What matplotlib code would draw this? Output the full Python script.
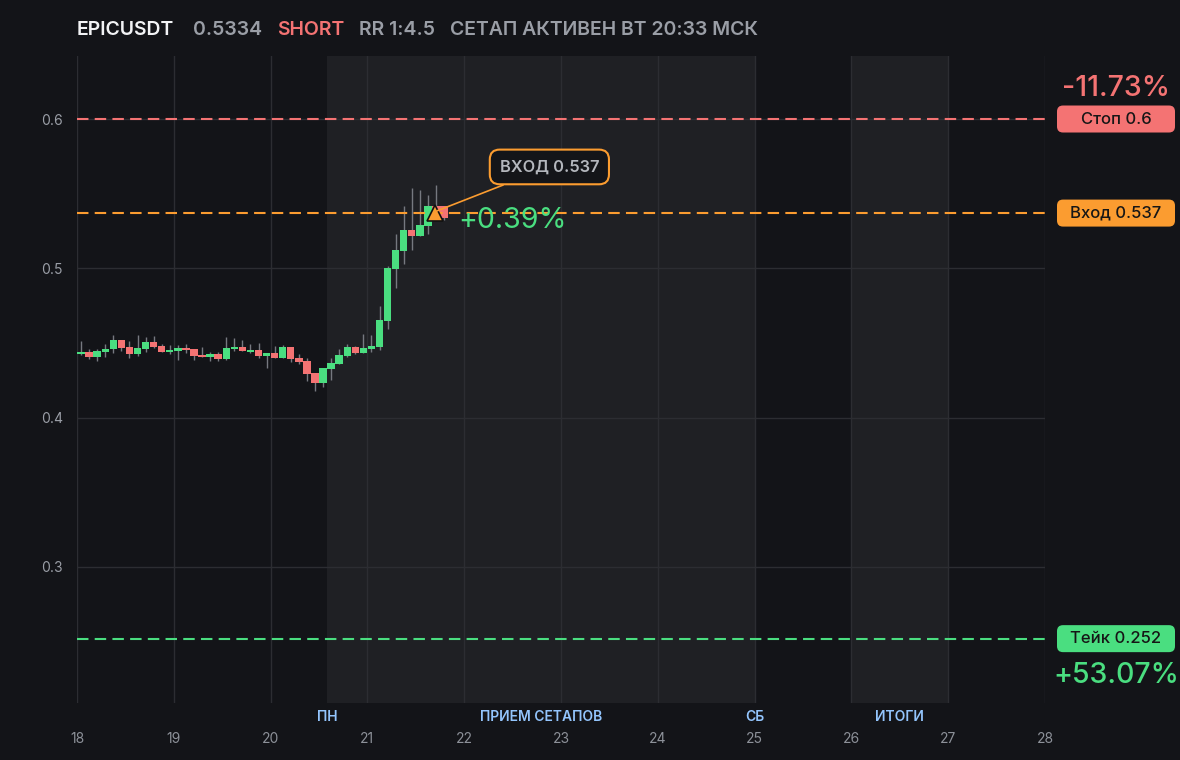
import matplotlib.pyplot as plt
from matplotlib.patches import FancyBboxPatch
from matplotlib.transforms import blended_transform_factory

plt.rcParams['font.family'] = ['Inter', 'DejaVu Sans']

# --- data ---
ticker = 'EPICUSDT'
last_price = '0.5334'
side = 'SHORT'
rr_text = 'RR 1:4.5'
status_text = 'СЕТАП АКТИВЕН ВТ 20:33 МСК'

start_day = 18
candle_days = 2 / 24   # 2h candles

opens = [0.4426, 0.4440, 0.4408, 0.4442, 0.4458, 0.4520, 0.4471, 0.4426, 0.4462, 0.4507,
         0.4480, 0.4440, 0.4448, 0.4466, 0.4460, 0.4420, 0.4408, 0.4426, 0.4395, 0.4460,
         0.4473, 0.4440, 0.4453, 0.4413, 0.4433, 0.4399, 0.4473, 0.4399, 0.4379, 0.4299,
         0.4234, 0.4328, 0.4361, 0.4415, 0.4473, 0.4433, 0.4460, 0.4475, 0.4647, 0.4995,
         0.5116, 0.5257, 0.5216, 0.5283, 0.5417, 0.5417]
highs = [0.4513, 0.4460, 0.4460, 0.4493, 0.4554, 0.4522, 0.4513, 0.4554, 0.4540, 0.4547,
         0.4493, 0.4487, 0.4487, 0.4493, 0.4460, 0.4473, 0.4440, 0.4440, 0.4540, 0.4533,
         0.4520, 0.4493, 0.4500, 0.4433, 0.4480, 0.4487, 0.4473, 0.4426, 0.4399, 0.4299,
         0.4332, 0.4399, 0.4460, 0.4493, 0.4480, 0.4560, 0.4554, 0.4748, 0.5017, 0.5230,
         0.5417, 0.5538, 0.5524, 0.5491, 0.5558, 0.5417]
lows = [0.4419, 0.4395, 0.4381, 0.4408, 0.4435, 0.4448, 0.4399, 0.4413, 0.4442, 0.4466,
        0.4440, 0.4426, 0.4386, 0.4435, 0.4386, 0.4408, 0.4379, 0.4381, 0.4386, 0.4448,
        0.4448, 0.4431, 0.4399, 0.4332, 0.4399, 0.4399, 0.4373, 0.4359, 0.4247, 0.4180,
        0.4207, 0.4252, 0.4361, 0.4408, 0.4426, 0.4433, 0.4442, 0.4453, 0.4594, 0.4870,
        0.5029, 0.5123, 0.5216, 0.5230, 0.5363, 0.5323]
closes = [0.4440, 0.4408, 0.4446, 0.4460, 0.4520, 0.4468, 0.4426, 0.4466, 0.4507, 0.4475,
          0.4440, 0.4453, 0.4466, 0.4453, 0.4413, 0.4408, 0.4426, 0.4395, 0.4466, 0.4473,
          0.4448, 0.4453, 0.4413, 0.4433, 0.4399, 0.4473, 0.4393, 0.4373, 0.4294, 0.4234,
          0.4332, 0.4366, 0.4419, 0.4473, 0.4433, 0.4466, 0.4482, 0.4654, 0.5002, 0.5123,
          0.5257, 0.5216, 0.5290, 0.5417, 0.5377, 0.5334]

stop_price = 0.6
entry_price = 0.537
take_price = 0.252
stop_pct = '-11.73%'
take_pct = '+53.07%'
live_pct = '+0.39%'
entry_day = 21.70

shade_spans = [(20.583, 25.0), (26.0, 27.0)]
phase_labels = ['ПН', 'ПРИЕМ СЕТАПОВ', 'СБ', 'ИТОГИ']
phase_days = [20.583, 22.79, 25.0, 26.5]
day_ticks = list(range(18, 29))
price_ticks = [0.3, 0.4, 0.5, 0.6]

# --- colours ---
BG = '#131418'
SHADE = '#1f2024'
GRID = '#2c2d32'
GREEN = '#4ade80'
RED = '#f47373'
ORANGE = '#fb9c30'
MUTED = '#9a9ea6'
BLUE = '#93c5fd'

fig = plt.figure(figsize=(11.8, 7.6), dpi=100, facecolor=BG)
ax = fig.add_axes([77 / 1180, 57 / 760, 968 / 1180, 647 / 760])
ax.set_facecolor(BG)
ax.set_xlim(18, 28)
ax.set_ylim(0.2089, 0.6422)
for s in ax.spines.values():
    s.set_visible(False)

for a, b in shade_spans:
    ax.axvspan(a, b, color=SHADE, zorder=0, lw=0)

ax.set_xticks(day_ticks)
ax.set_yticks(price_ticks)
ax.set_yticklabels([f'{p:g}' for p in price_ticks])
ax.grid(True, color=GRID, lw=1, zorder=0.5)
ax.set_axisbelow(True)
ax.tick_params(axis='both', length=0, colors=MUTED, labelsize=10)
ax.tick_params(axis='x', pad=21, labelcolor='#8d9199')
ax.tick_params(axis='y', pad=10)

# candles
xs = [start_day + (i + 0.5) * candle_days for i in range(len(opens))]
cols = [GREEN if c >= o else RED for o, c in zip(opens, closes)]
ax.vlines(xs, lows, highs, color='#767980', lw=1, zorder=2)
bottoms = [min(o, c) for o, c in zip(opens, closes)]
heights = [max(abs(c - o), 0.0014) for o, c in zip(opens, closes)]
ax.bar(xs, heights, bottom=bottoms, width=candle_days * 0.92, color=cols, lw=0, zorder=3)

# level lines
for price, col in [(stop_price, RED), (entry_price, ORANGE), (take_price, GREEN)]:
    ax.axhline(price, color=col, lw=1.5, ls=(0, (5.5, 3)), zorder=4)

# entry marker and callout
ax.plot([entry_day], [entry_price], marker='^', ms=12, mfc=ORANGE, mec='#111111', mew=1.2, zorder=6)
ax.annotate(f'ВХОД {entry_price:g}', xy=(entry_day + 0.02, entry_price + 0.0015), xytext=(22.88, 0.5679),
            ha='center', va='center', fontsize=11.8, fontweight='semibold', color='#b4b7bd',
            bbox=dict(boxstyle='round,pad=0.6,rounding_size=0.6', fc='#141519', ec=ORANGE, lw=1.5),
            arrowprops=dict(arrowstyle='-', color=ORANGE, lw=1.2, shrinkA=0, shrinkB=0), zorder=7)
ax.text(21.94, 0.5318, live_pct, color=GREEN, fontsize=20.5, ha='left', va='center', zorder=7)

# phase labels under the axis
trans = blended_transform_factory(ax.transData, ax.transAxes)
for lab, d in zip(phase_labels, phase_days):
    ax.text(d, -0.0216, lab, transform=trans, ha='center', va='center',
            color=BLUE, fontsize=10, fontweight='semibold')

# right-hand level tags (positions taken from the axis transform)
fig.canvas.draw()
inch = fig.dpi_scale_trans
tags = [(stop_price, RED, f'Стоп {stop_price:g}'),
        (entry_price, ORANGE, f'Вход {entry_price:g}'),
        (take_price, GREEN, f'Тейк {take_price:g}')]
for price, col, lab in tags:
    yp = ax.transData.transform((18, price))[1] / fig.dpi
    box = FancyBboxPatch((10.57, yp - 0.135), 1.18, 0.27, boxstyle='round,pad=0,rounding_size=0.06',
                         transform=inch, fc=col, ec='none')
    fig.patches.append(box)
    fig.text(11.16, yp, lab, transform=inch, ha='center', va='center',
             fontsize=12, fontweight='medium', color='#161616')

y_stop = ax.transData.transform((18, stop_price))[1] / fig.dpi
y_take = ax.transData.transform((18, take_price))[1] / fig.dpi
fig.text(11.16, y_stop + 0.31, stop_pct, transform=inch, ha='center', va='center',
         fontsize=20.5, fontweight='medium', color=RED)
fig.text(11.16, y_take - 0.37, take_pct, transform=inch, ha='center', va='center',
         fontsize=20.5, fontweight='medium', color=GREEN)

# header
header = [(0.77, ticker, '#f2f3f5'), (1.93, last_price, MUTED), (2.77, side, RED),
          (3.59, rr_text, MUTED), (4.50, status_text, MUTED)]
for x, txt, col in header:
    fig.text(x, 7.30, txt, transform=inch, ha='left', va='center',
             fontsize=14, fontweight='semibold', color=col)

fig.savefig('out.png', dpi=100, facecolor=BG)
